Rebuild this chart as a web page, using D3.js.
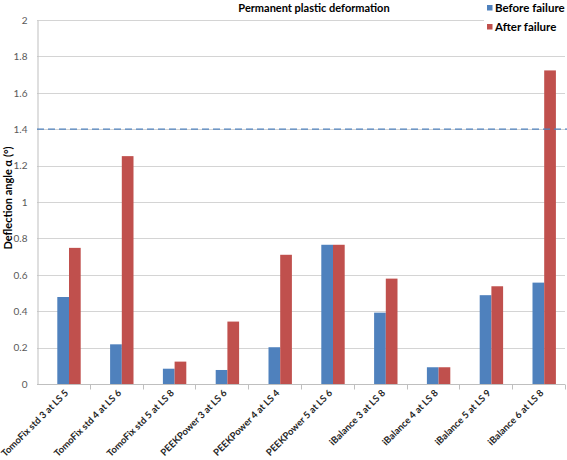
<!DOCTYPE html>
<html>
<head>
<meta charset="utf-8">
<script src="https://cdn.jsdelivr.net/npm/d3@7"></script>
<style>
  body { margin: 0; background: #fff; }
  svg { display: block; }
  text { font-family: Lato, "Liberation Sans", sans-serif; }
</style>
</head>
<body>
<svg id="chart" width="567" height="460"></svg>
<script>
const categories = [
  "TomoFix std 3 at LS 5", "TomoFix std 4 at LS 6", "TomoFix std 5 at LS 8",
  "PEEKPower 3 at LS 6", "PEEKPower 4 at LS 4", "PEEKPower 5 at LS 6",
  "iBalance 3 at LS 8", "iBalance 4 at LS 8", "iBalance 5 at LS 9", "iBalance 6 at LS 8"
];
const beforeFailure = [0.478, 0.218, 0.084, 0.077, 0.202, 0.765, 0.392, 0.092, 0.488, 0.557];
const afterFailure  = [0.748, 1.252, 0.123, 0.343, 0.71, 0.765, 0.579, 0.092, 0.537, 1.723];
const seriesNames = ["Before failure", "After failure"];
const seriesColors = ["#4F81BD", "#C0504D"];
const yTicks = [0, 0.2, 0.4, 0.6, 0.8, 1, 1.2, 1.4, 1.6, 1.8, 2];
const threshold = 1.4;
const title = "Permanent plastic deformation";
const yTitle = "Deflection angle α (°)";

const svg = d3.select("#chart");
const mLeft = 37, mRight = 565, mTop = 20, mBottom = 384;

const x = d3.scaleBand().domain(categories).range([mLeft, mRight]).padding(0);
const xs = d3.scaleBand().domain(seriesNames).range([20.3, 43.7]).padding(0);
const y = d3.scaleLinear().domain([0, 2]).range([mBottom, mTop]);

// gridlines
svg.append("g").selectAll("line").data(yTicks.filter(d => d > 0)).join("line")
  .attr("x1", mLeft).attr("x2", d => d === 2 ? 484 : mRight)
  .attr("y1", d => Math.round(y(d)) + 0.5).attr("y2", d => Math.round(y(d)) + 0.5)
  .attr("stroke", "#d4d4d4").attr("stroke-width", 1);

// y axis
const yAxis = svg.append("g").attr("transform", `translate(${mLeft + 0.5},0)`)
  .call(d3.axisLeft(y).tickValues(yTicks).tickSize(0).tickPadding(10)
    .tickFormat(d => d3.format("")(d)));
yAxis.select(".domain").attr("stroke", "#bfbfbf");
yAxis.selectAll("text").attr("fill", "#595959").attr("font-size", 10);

// bars
const data = categories.map((c, i) => ({ c, vals: [beforeFailure[i], afterFailure[i]] }));
const groups = svg.append("g").selectAll("g").data(data).join("g")
  .attr("transform", d => `translate(${x(d.c)},0)`);
groups.selectAll("rect").data(d => d.vals.map((v, j) => ({ v, s: seriesNames[j], j })))
  .join("rect")
  .attr("x", d => xs(d.s))
  .attr("width", xs.bandwidth())
  .attr("y", d => y(d.v))
  .attr("height", d => y(0) - y(d.v))
  .attr("fill", d => seriesColors[d.j]);

// x axis
const xAxisG = svg.append("g").attr("transform", `translate(0,${mBottom + 0.5})`);
xAxisG.append("line").attr("x1", mLeft).attr("x2", mRight).attr("stroke", "#bfbfbf");
xAxisG.selectAll("line.tick").data(categories).join("line").attr("class", "tick")
  .attr("x1", d => Math.round(x(d) + x.bandwidth()) + 0.5)
  .attr("x2", d => Math.round(x(d) + x.bandwidth()) + 0.5)
  .attr("y1", 0).attr("y2", 5).attr("stroke", "#bfbfbf");
xAxisG.selectAll("text").data(categories).join("text")
  .attr("transform", d => `translate(${x(d) + 32},9) rotate(-45)`)
  .attr("text-anchor", "end")
  .attr("font-size", 9.5).attr("font-weight", "bold").attr("fill", "#262626")
  .text(d => d);

// threshold dashed line
svg.append("line")
  .attr("x1", mLeft).attr("x2", 567)
  .attr("y1", y(threshold)).attr("y2", y(threshold))
  .attr("stroke", "#4F81BD").attr("stroke-width", 1.2).attr("stroke-dasharray", "7,4");

// title
svg.append("text").attr("x", 314).attr("y", 12).attr("text-anchor", "middle")
  .attr("font-size", 11).attr("font-weight", "bold").attr("fill", "#000").text(title);

// y title
svg.append("text").attr("transform", `translate(12,198) rotate(-90)`)
  .attr("text-anchor", "middle").attr("font-size", 11).attr("font-weight", "bold")
  .attr("fill", "#000").text(yTitle);

// legend
const leg = svg.append("g").attr("transform", "translate(487,0)");
seriesNames.forEach((s, i) => {
  leg.append("rect").attr("x", 0).attr("y", 5 + i * 19).attr("width", 5.5).attr("height", 5.5)
    .attr("fill", seriesColors[i]);
  leg.append("text").attr("x", 8).attr("y", 11.5 + i * 19)
    .attr("font-size", 11.5).attr("font-weight", "bold").attr("fill", "#000").text(s);
});
</script>
</body>
</html>
